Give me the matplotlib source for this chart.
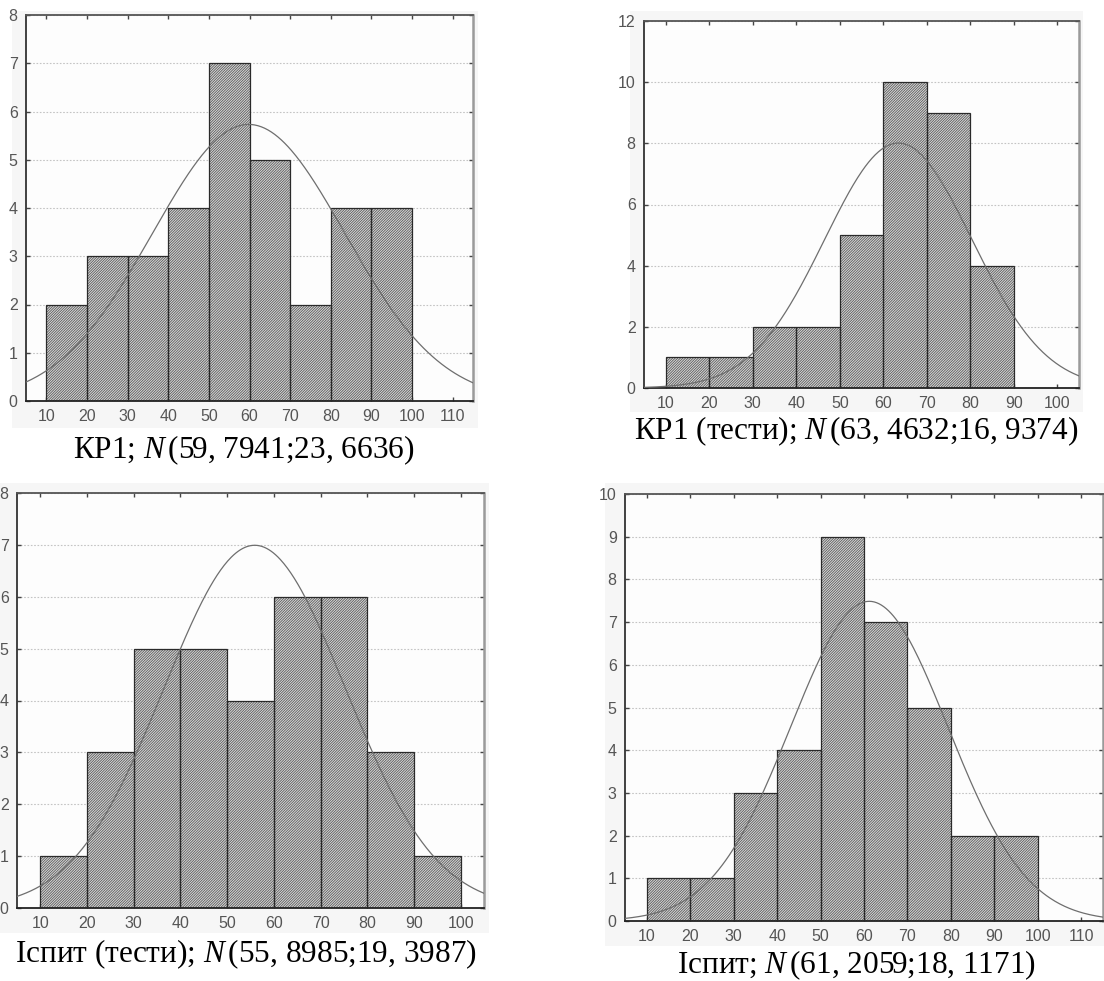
import numpy as np
import matplotlib
matplotlib.use("Agg")
import matplotlib.pyplot as plt
from matplotlib.patches import Rectangle

# ---------------- data ----------------
bin_edges = [10, 20, 30, 40, 50, 60, 70, 80, 90, 100]

kr1_counts = [2, 3, 3, 4, 7, 5, 2, 4, 4]
kr1_mean, kr1_sd = 59.7941, 23.6636
kr1_caption = r"КР1; $N\,$(59, 7941;23, 6636)"

kr1t_counts = [1, 1, 2, 2, 5, 10, 9, 4, 0]
kr1t_mean, kr1t_sd = 63.4632, 16.9374
kr1t_caption = r"КР1 (тести); $N\,$(63, 4632;16, 9374)"

ispt_counts = [1, 3, 5, 5, 4, 6, 6, 3, 1]
ispt_mean, ispt_sd = 55.8985, 19.3987
ispt_caption = r"Іспит (тести); $N\,$(55, 8985;19, 3987)"

isp_counts = [1, 1, 3, 4, 9, 7, 5, 2, 2]
isp_mean, isp_sd = 61.2059, 18.1171
isp_caption = r"Іспит; $N\,$(61, 2059;18, 1171)"

x_ticks_long = [10, 20, 30, 40, 50, 60, 70, 80, 90, 100, 110]
x_ticks_short = [10, 20, 30, 40, 50, 60, 70, 80, 90, 100]

# ---------------- style ----------------
W, H = 1104, 981
plt.rcParams['mathtext.fontset'] = 'custom'
plt.rcParams['mathtext.rm'] = 'Liberation Serif'
plt.rcParams['mathtext.it'] = 'Liberation Serif:italic'
plt.rcParams['hatch.linewidth'] = 0.6
tick_font = ['Liberation Sans Narrow', 'Liberation Sans', 'DejaVu Sans']

fig = plt.figure(figsize=(W / 100, H / 100), dpi=100)
fig.patch.set_facecolor('white')


def fig_rect(l, t, r, b):
    return [l / W, 1 - b / H, (r - l) / W, (b - t) / H]


def panel(bg, ax_box, counts, mean, sd, xlim, ylim, yticks, xticks, caption, cap_xy):
    l, t, r, b = bg
    fig.add_artist(Rectangle((l / W, 1 - b / H), (r - l) / W, (b - t) / H,
                             transform=fig.transFigure, facecolor='#f6f6f6',
                             edgecolor='none', zorder=-5))
    ax = fig.add_axes(fig_rect(*ax_box))
    ax.set_facecolor('#fdfdfd')
    lefts = bin_edges[:-1]
    ax.bar(lefts, counts, width=10, align='edge', color='#dadada',
           edgecolor='#5a5a5a', hatch='/' * 13, linewidth=0, zorder=2)
    ax.bar(lefts, counts, width=10, align='edge', fill=False,
           edgecolor='#2a2a2a', linewidth=0.9, zorder=3)
    n = sum(counts)
    xs = np.linspace(xlim[0], xlim[1], 400)
    ys = n * 10 / (sd * np.sqrt(2 * np.pi)) * np.exp(-0.5 * ((xs - mean) / sd) ** 2)
    ax.plot(xs, ys, color='#6e6e6e', linewidth=0.9, zorder=4)
    ax.set_xlim(*xlim)
    ax.set_ylim(*ylim)
    ax.set_yticks(yticks)
    ax.set_xticks(xticks)
    ax.yaxis.grid(True, linestyle=(0, (1.5, 1.5)), color='#c4c4c4', linewidth=0.8, zorder=0)
    ax.set_axisbelow(True)
    ax.tick_params(direction='in', length=3, width=1, colors='#444444',
                   top=True, right=True, labelsize=11.5, pad=6)
    ax.tick_params(axis='x', pad=6)
    for lab in ax.get_xticklabels() + ax.get_yticklabels():
        lab.set_fontfamily(tick_font)
        lab.set_color('#555555')
    ax.spines['left'].set_color('#333333')
    ax.spines['bottom'].set_color('#222222')
    ax.spines['top'].set_color('#555555')
    ax.spines['right'].set_color('#9a9a9a')
    for s in ax.spines.values():
        s.set_linewidth(1.3)
    ax.spines['right'].set_linewidth(1.8)
    fig.text(cap_xy[0] / W, 1 - cap_xy[1] / H, caption, ha='center', va='center',
             fontsize=22.5, family='Liberation Serif', color='black')
    return ax


panel((12, 11, 478, 428), (26, 15, 473, 401), kr1_counts, kr1_mean, kr1_sd,
      (5, 115), (0, 8), range(0, 9), x_ticks_long, kr1_caption, (244, 450))
panel((630, 11, 1083, 412), (644, 21, 1079, 388), kr1t_counts, kr1t_mean, kr1t_sd,
      (5, 105), (0, 12), range(0, 13, 2), x_ticks_short, kr1t_caption, (856, 431))
panel((0, 483, 489, 933), (17, 493, 484, 908), ispt_counts, ispt_mean, ispt_sd,
      (5, 105), (0, 8), range(0, 9), x_ticks_short, ispt_caption, (246, 954))
panel((605, 483, 1104, 946), (625, 494, 1103, 921), isp_counts, isp_mean, isp_sd,
      (5, 115), (0, 10), range(0, 11), x_ticks_long, isp_caption, (856, 965))

fig.savefig('out.png', dpi=100)
